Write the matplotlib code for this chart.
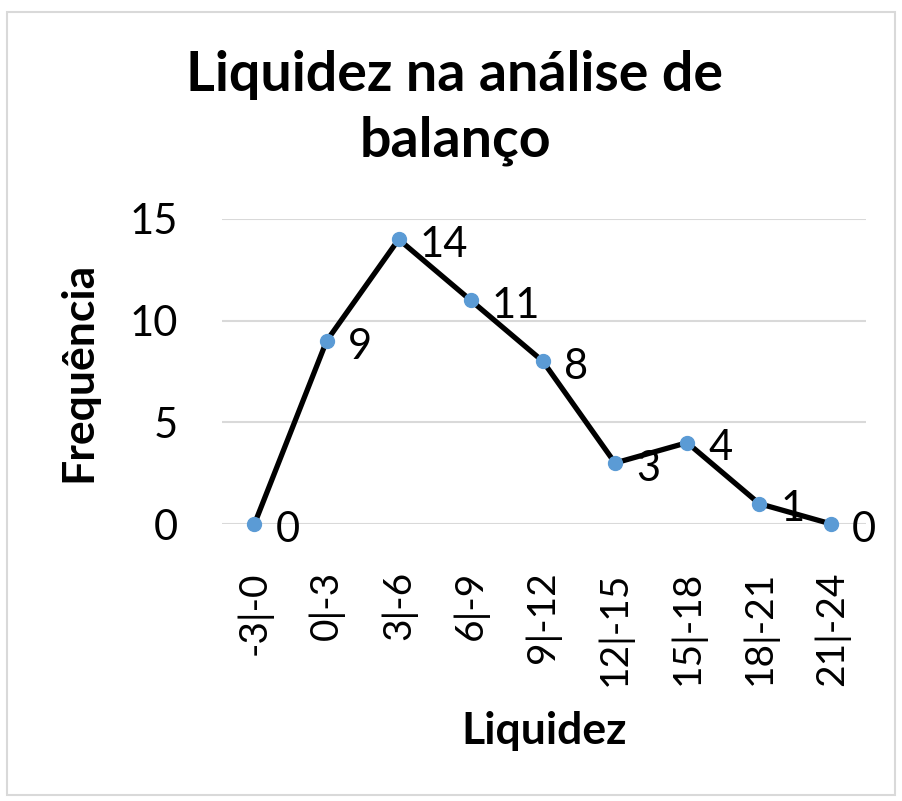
import matplotlib
matplotlib.use("Agg")
import matplotlib.pyplot as plt
from matplotlib.patches import Rectangle

# classes de liquidez e frequencias
classes = ["-3|-0", "0|-3", "3|-6", "6|-9", "9|-12", "12|-15", "15|-18", "18|-21", "21|-24"]
freq = [0, 9, 14, 11, 8, 3, 4, 1, 0]
yticks = [0, 5, 10, 15]

plt.rcParams['font.family'] = ['Lato', 'DejaVu Sans']

fig = plt.figure(figsize=(9.02, 8.01), dpi=100)
# moldura cinza do grafico (estilo excel)
fig.patches.append(Rectangle((7/902, 6/801), 888/902, 783/801, transform=fig.transFigure,
                             fill=False, edgecolor="#D9D9D9", linewidth=1.5))

ax = fig.add_axes([222/902, 1 - 524/801, 644/902, 305/801])
x = list(range(len(classes)))
ax.plot(x, freq, color="black", linewidth=3.8, marker="o", markersize=10,
        markerfacecolor="#5B9BD5", markeredgecolor="#5B9BD5", clip_on=False, zorder=3)

for xi, yi in zip(x, freq):
    ax.annotate(str(yi), (xi, yi), xytext=(15, -4), textcoords="offset points",
                fontsize=30, ha="left", va="center")

ax.set_xlim(-0.45, 8.48)
ax.set_ylim(0, 15)
ax.set_yticks(yticks)
ax.set_xticks(x)
ax.set_xticklabels(classes, rotation=90, fontsize=28)
ax.tick_params(axis="y", labelsize=30, length=0, pad=32)
ax.tick_params(axis="x", length=0, pad=34)
ax.grid(axis="y", color="#D9D9D9", linewidth=1.5)
ax.set_axisbelow(True)
for s in ax.spines.values():
    s.set_visible(False)

ax.set_xlabel("Liquidez", fontsize=32, fontweight="bold", labelpad=18)
ax.set_ylabel("Frequência", fontsize=32, fontweight="bold", labelpad=22)

fig.text(455/902, 1 - 108/801, "Liquidez na análise de\nbalanço", fontsize=40,
         fontweight="bold", ha="center", va="center", linespacing=1.4)

fig.savefig("out.png", dpi=100)
